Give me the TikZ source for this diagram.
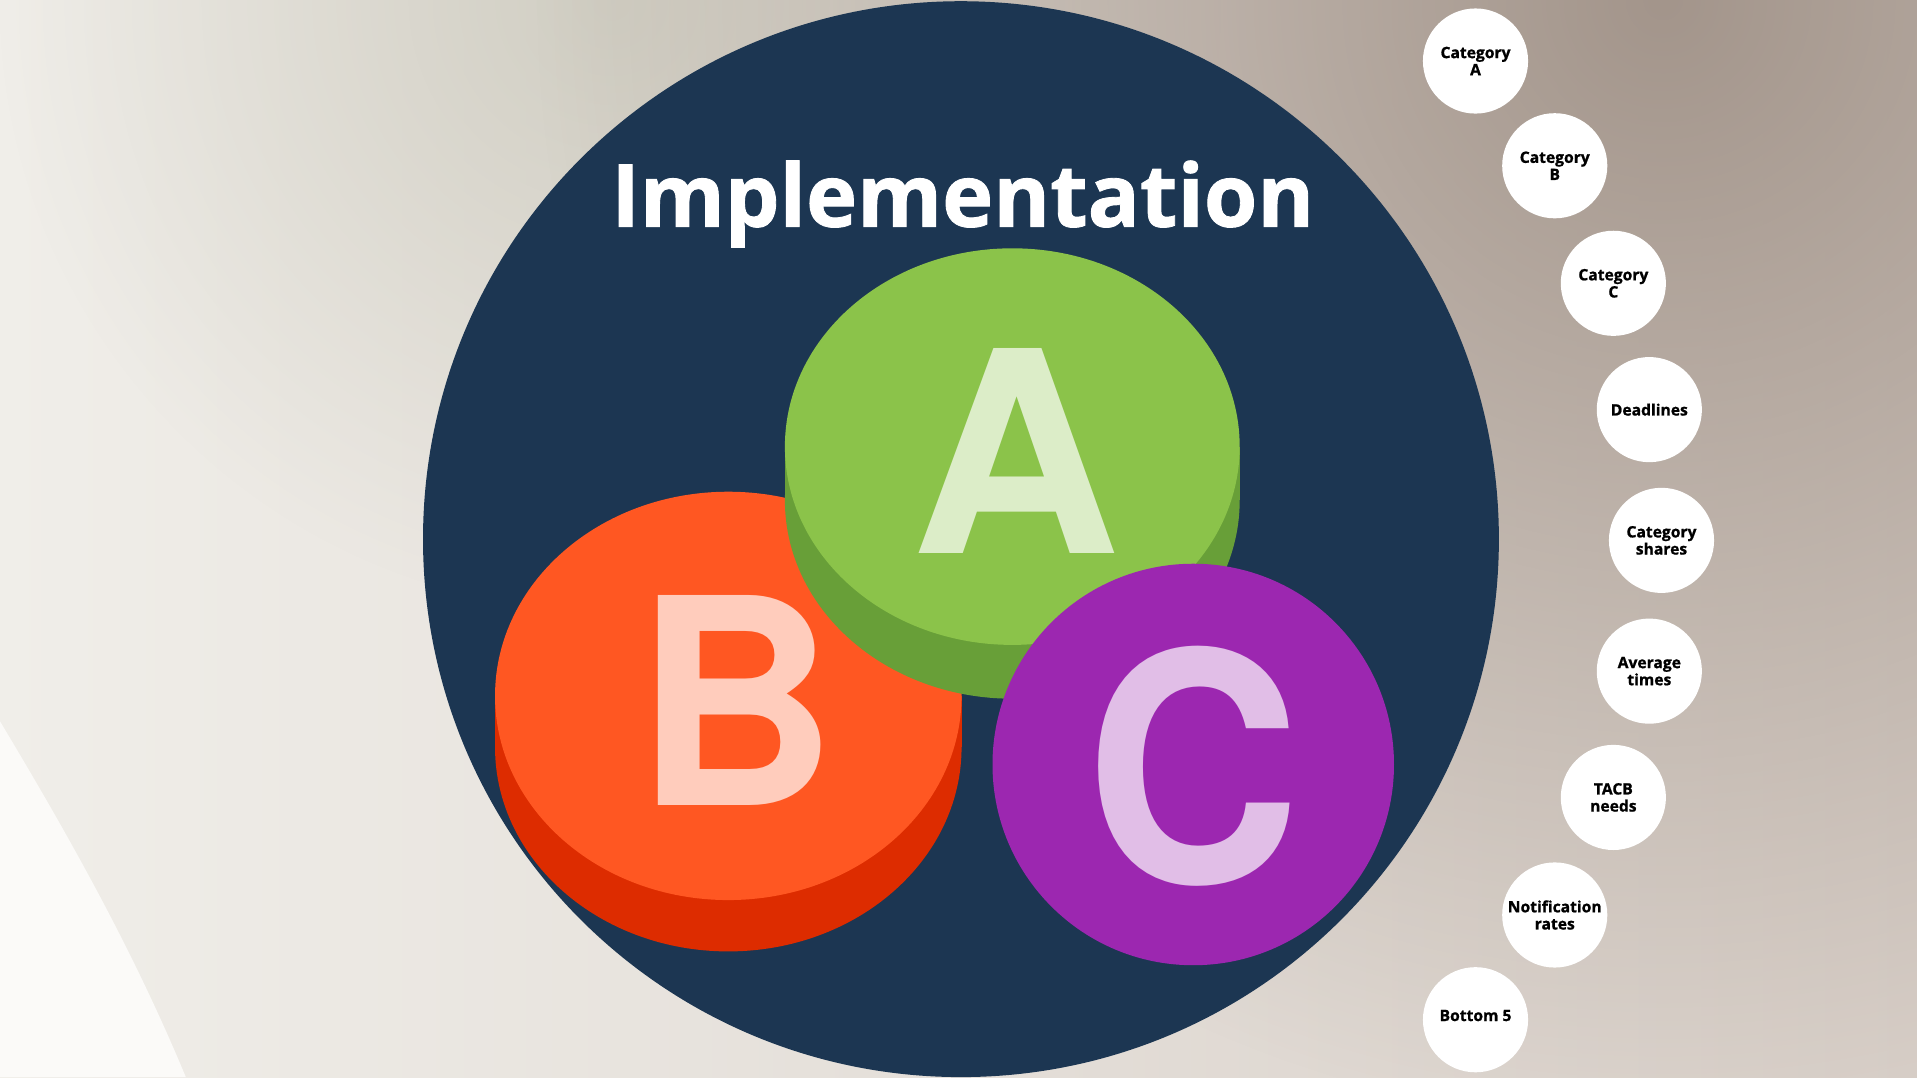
\documentclass[tikz,border=0pt]{standalone}
\usepackage{fontspec}
\usetikzlibrary{fadings}
\newfontfamily\titlefont{Open Sans}[BoldFeatures={FakeBold=1}]
\newfontfamily\letterfont{TeX Gyre Heros}
\definecolor{navy}{HTML}{1C3652}
\definecolor{greenface}{HTML}{8BC34A}
\definecolor{greenside}{HTML}{689F38}
\definecolor{greenletter}{HTML}{DCEDC8}
\definecolor{orangeface}{HTML}{FF5722}
\definecolor{orangeside}{HTML}{DD2C00}
\definecolor{orangeletter}{HTML}{FFCCBC}
\definecolor{purpleface}{HTML}{9C27B0}
\definecolor{purpleletter}{HTML}{E1BEE7}
\definecolor{bgleft}{HTML}{F0EEE9}
\definecolor{bgright}{HTML}{D8CFC8}
\definecolor{taupe}{HTML}{A3958B}
\definecolor{sage}{HTML}{C9C7BA}
\definecolor{paleleft}{HTML}{FBFAF8}
\tikzfading[name=softglow, inner color=transparent!0, outer color=transparent!100]
\tikzset{
  topic/.style={circle, fill=white, minimum size=43pt, inner sep=0pt, align=center,
    font=\titlefont\bfseries\fontsize{6.4pt}{7pt}\selectfont, text=black},
  bigletter/.style={anchor=south, inner sep=0pt}
}
\begin{document}
\begin{tikzpicture}[x=0.5pt,y=-0.5pt]
\useasboundingbox (0,0) rectangle (1568,881);
% background
\shade[left color=bgleft, right color=bgright] (0,0) rectangle (1568,881);
\begin{scope}
\clip (0,0) rectangle (1568,881);
\fill[sage, opacity=0.75, path fading=softglow] (500,0) circle [radius=250pt];
\fill[taupe, path fading=softglow] (1360,0) circle [radius=460pt];
\fill[paleleft] (0,590) .. controls (60,690) and (110,780) .. (152,881) -- (0,881) -- cycle;
\end{scope}
% big navy circle
\node (main) [circle, fill=navy, minimum size=440pt, inner sep=0pt] at (786,441) {};
% title
\node (title) [anchor=base, inner sep=0pt, text=white] at (787.5,185.4)
  {\resizebox{287.5pt}{27pt}{\titlefont\bfseries Implementation}};
% disc B (orange)
\fill[orangeside] (595.7,611.2) ellipse [x radius=95.4pt, y radius=83.5pt];
\fill[orangeside] (404.9,569.2) rectangle (786.5,611.2);
\fill[orangeface] (595.7,569.2) ellipse [x radius=95.4pt, y radius=83.5pt];
\node (letB) [bigletter, text=orangeletter] at (602,659.3)
  {\scalebox{0.966}[1]{\resizebox*{!}{85.9pt}{\letterfont\bfseries B}}};
% disc A (green)
\fill[greenside] (828,409.3) ellipse [x radius=93pt, y radius=81.1pt];
\fill[greenside] (642,365.3) rectangle (1014,409.3);
\fill[greenface] (828,365.3) ellipse [x radius=93pt, y radius=81.1pt];
\node (letA) [bigletter, text=greenletter] at (830.85,453.4)
  {\scalebox{1.028}[1]{\resizebox*{!}{83.85pt}{\letterfont\bfseries A}}};
% disc C (purple)
\fill[purpleface] (976,625.3) circle [radius=82.1pt];
\node (letC) [bigletter, text=purpleletter] at (976,725.3)
  {\scalebox{0.936}[1]{\resizebox*{!}{98.15pt}{\letterfont\bfseries C}}};
% topic circles on an arc
\node (catA) [topic] at ([shift={(777.5,442)}]-42.4:581.5) {Category\\A};
\node (catB) [topic] at ([shift={(777.5,442)}]-31.8:581.5) {Category\\B};
\node (catC) [topic] at ([shift={(777.5,442)}]-21.2:581.5) {Category\\C};
\node (deadlines) [topic] at ([shift={(777.5,442)}]-10.6:581.5) {Deadlines};
\node (shares) [topic] at ([shift={(777.5,442)}]0:581.5) {Category\\shares};
\node (avgtimes) [topic] at ([shift={(777.5,442)}]10.6:581.5) {Average\\times};
\node (tacb) [topic] at ([shift={(777.5,442)}]21.2:581.5) {TACB\\needs};
\node (notif) [topic] at ([shift={(777.5,442)}]31.8:581.5) {Notification\\rates};
\node (bottom) [topic] at ([shift={(777.5,442)}]42.4:581.5) {\raisebox{3.5pt}{Bottom 5}};
\end{tikzpicture}
\end{document}
